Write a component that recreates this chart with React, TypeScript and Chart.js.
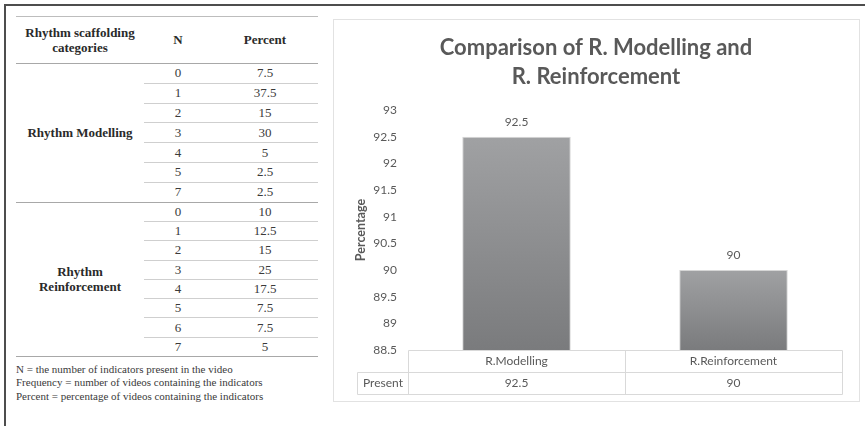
import React, { useEffect, useRef } from "react";
import { Chart, registerables } from "chart.js";

Chart.register(...registerables);

// ---------- data ----------
const chartTitle = ["Comparison of R. Modelling and", "R. Reinforcement"];
const categories = ["R.Modelling", "R.Reinforcement"];
const seriesName = "Present";
const presentValues = [92.5, 90];
const yAxisTitle = "Percentage";
const yMin = 88.5;
const yMax = 93;
const yStep = 0.5;

const tableHeader = ["Rhythm scaffolding\ncategories", "N", "Percent"];
const groupLabels = ["Rhythm Modelling", "Rhythm\nReinforcement"];
const modellingN = ["0", "1", "2", "3", "4", "5", "7"];
const modellingPercent = ["7.5", "37.5", "15", "30", "5", "2.5", "2.5"];
const reinforcementN = ["0", "1", "2", "3", "4", "5", "6", "7"];
const reinforcementPercent = ["10", "12.5", "15", "25", "17.5", "7.5", "7.5", "5"];
const footnotes = [
  "N = the number of indicators present in the video",
  "Frequency = number of videos containing the indicators",
  "Percent = percentage of videos containing the indicators",
];

// ---------- styles ----------
const CHART_FONT = "Lato, 'Open Sans', sans-serif";
const TEXT_GREY = "#595959";
const TABLE_LINE = "#d9d9d9";

const dataTablePlugin = {
  id: "dataTablePlugin",
  afterDatasetsDraw(chart: any) {
    const { ctx, chartArea } = chart;
    const x = chart.scales.x;
    const meta = chart.getDatasetMeta(0);
    const values = chart.data.datasets[0].data as number[];
    const labels = chart.data.labels as string[];
    ctx.save();
    ctx.font = `12px ${CHART_FONT}`;
    ctx.fillStyle = TEXT_GREY;
    ctx.textAlign = "center";
    ctx.textBaseline = "middle";
    // value labels above bars
    meta.data.forEach((bar: any, i: number) => {
      ctx.fillText(String(values[i]), bar.x, bar.y - 15);
    });
    // data table
    const n = labels.length;
    const half = n > 1 ? (x.getPixelForValue(1) - x.getPixelForValue(0)) / 2 : x.width / 2;
    const left = Math.round(x.getPixelForValue(0) - half) + 0.5;
    const right = Math.round(x.getPixelForValue(n - 1) + half) + 0.5;
    const top = Math.round(chartArea.bottom) + 0.5;
    const rowH = 21.5;
    const mid = Math.round(top + rowH) + 0.5;
    const bottom = Math.round(top + 2 * rowH) + 0.5;
    const labelLeft = 24.5;
    ctx.strokeStyle = TABLE_LINE;
    ctx.lineWidth = 1;
    ctx.beginPath();
    ctx.moveTo(left, top);
    ctx.lineTo(right, top);
    ctx.moveTo(labelLeft, mid);
    ctx.lineTo(right, mid);
    ctx.moveTo(labelLeft, bottom);
    ctx.lineTo(right, bottom);
    ctx.moveTo(left, top);
    ctx.lineTo(left, bottom);
    ctx.moveTo(labelLeft, mid);
    ctx.lineTo(labelLeft, bottom);
    for (let i = 0; i < n; i++) {
      const xr = Math.round(x.getPixelForValue(i) + half) + 0.5;
      ctx.moveTo(xr, top);
      ctx.lineTo(xr, bottom);
    }
    ctx.stroke();
    for (let i = 0; i < n; i++) {
      const cx = x.getPixelForValue(i);
      ctx.fillText(labels[i], cx, (top + mid) / 2);
      ctx.fillText(String(values[i]), cx, (mid + bottom) / 2);
    }
    ctx.fillText(chart.data.datasets[0].label, (labelLeft + left) / 2, (mid + bottom) / 2);
    ctx.restore();
  },
};

function barGradient(c: any) {
  const chart = c.chart;
  const ca = chart.chartArea;
  const ys = chart.scales && chart.scales.y;
  if (!ca || !ys || c.raw == null) return "#8a8a8a";
  const yTop = ys.getPixelForValue(c.raw);
  const g = chart.ctx.createLinearGradient(0, yTop, 0, ca.bottom);
  g.addColorStop(0, "#a0a1a3");
  g.addColorStop(1, "#7a7b7d");
  return g;
}

function ChartPanel() {
  const ref = useRef<HTMLCanvasElement | null>(null);
  useEffect(() => {
    if (!ref.current) return;
    const chart = new Chart(ref.current, {
      type: "bar",
      data: {
        labels: categories,
        datasets: [
          {
            label: seriesName,
            data: presentValues,
            backgroundColor: barGradient as any,
            borderColor: "#d6d6d6",
            borderWidth: 1,
            barPercentage: 0.5,
            categoryPercentage: 1,
          },
        ],
      },
      options: {
        responsive: false,
        animation: false,
        events: [],
        layout: { padding: { left: 17, right: 17, top: 0, bottom: 52 } },
        plugins: {
          legend: { display: false },
          tooltip: { enabled: false },
          title: {
            display: true,
            text: chartTitle,
            color: TEXT_GREY,
            font: { family: CHART_FONT, size: 22, weight: "bold", lineHeight: 1.32 },
            padding: { top: 14.5, bottom: 18.5 },
          },
        },
        scales: {
          x: {
            display: false,
            offset: true,
            grid: { display: false },
          },
          y: {
            min: yMin,
            max: yMax,
            grid: { display: false, drawTicks: false },
            border: { display: false },
            ticks: {
              stepSize: yStep,
              padding: 11,
              color: TEXT_GREY,
              font: { family: CHART_FONT, size: 12 },
              callback: (v: any) => String(Number(v)),
            },
            title: {
              display: true,
              text: yAxisTitle,
              color: TEXT_GREY,
              font: { family: CHART_FONT, size: 12.5, weight: "bold" },
              padding: { top: 3.5, bottom: 0 },
            },
            afterFit(scale: any) {
              scale.width = 58;
            },
          },
        },
      },
      plugins: [dataTablePlugin],
    });
    return () => chart.destroy();
  }, []);
  return (
    <canvas
      ref={ref}
      width={526}
      height={383}
      style={{ position: "absolute", left: 333, top: 19, width: 526, height: 383 }}
    />
  );
}

const SERIF = "'Liberation Serif', 'Times New Roman', serif";

function LeftTable() {
  const tableLeft = 16;
  const tableWidth = 302;
  const col1W = 128;
  const col2W = 68;
  const col3W = 106;
  const headerTop = 16;
  const headerBottom = 63;
  const rowH1 = 19.8;
  const rowH2 = 19.3;
  const groupTop2 = headerBottom + modellingN.length * rowH1;
  const tableBottom = groupTop2 + reinforcementN.length * rowH2;

  const major = "#a8a8a8";
  const minor = "#cfcfcf";

  const hLine = (top: number, left: number, width: number, color: string, key: string) => (
    <div
      key={key}
      style={{ position: "absolute", left, top: Math.round(top), width, height: 1, background: color }}
    />
  );

  const cell = (
    text: string,
    left: number,
    top: number,
    width: number,
    height: number,
    key: string,
    bold = false
  ) => (
    <div
      key={key}
      style={{
        position: "absolute",
        left,
        top,
        width,
        height,
        display: "flex",
        alignItems: "center",
        justifyContent: "center",
        textAlign: "center",
        whiteSpace: "pre-line",
        fontFamily: SERIF,
        fontSize: 13,
        lineHeight: "15px",
        fontWeight: bold ? 700 : 400,
        color: bold ? "#2a2a2a" : "#3a3a3a",
      }}
    >
      {text}
    </div>
  );

  const items: any[] = [];
  items.push(hLine(headerTop, tableLeft, tableWidth, "#bdbdbd", "top"));
  items.push(cell(tableHeader[0], tableLeft, headerTop, col1W, headerBottom - headerTop, "h0", true));
  items.push(cell(tableHeader[1], tableLeft + col1W, headerTop, col2W, headerBottom - headerTop, "h1", true));
  items.push(cell(tableHeader[2], tableLeft + col1W + col2W, headerTop, col3W, headerBottom - headerTop, "h2", true));
  items.push(hLine(headerBottom, tableLeft, tableWidth, major, "hb"));

  const groups = [
    { label: groupLabels[0], n: modellingN, p: modellingPercent, top: headerBottom, h: rowH1 },
    { label: groupLabels[1], n: reinforcementN, p: reinforcementPercent, top: groupTop2, h: rowH2 },
  ];
  groups.forEach((g, gi) => {
    const gh = g.n.length * g.h;
    items.push(cell(g.label, tableLeft, g.top, col1W, gh, `g${gi}`, true));
    g.n.forEach((nv, ri) => {
      const rt = g.top + ri * g.h;
      items.push(cell(nv, tableLeft + col1W, rt, col2W, g.h, `n${gi}-${ri}`));
      items.push(cell(g.p[ri], tableLeft + col1W + col2W, rt, col3W, g.h, `p${gi}-${ri}`));
      if (ri < g.n.length - 1) {
        items.push(hLine(rt + g.h, tableLeft + col1W, col2W + col3W, minor, `l${gi}-${ri}`));
      }
    });
    items.push(hLine(g.top + gh, tableLeft, tableWidth, major, `gb${gi}`));
  });

  footnotes.forEach((f, i) => {
    items.push(
      <div
        key={`f${i}`}
        style={{
          position: "absolute",
          left: 16,
          top: tableBottom + 7 + i * 13.3,
          fontFamily: SERIF,
          fontSize: 11,
          lineHeight: "13.3px",
          color: "#3a3a3a",
          whiteSpace: "nowrap",
        }}
      >
        {f}
      </div>
    );
  });

  return <>{items}</>;
}

export default function App() {
  return (
    <div
      style={{
        position: "absolute",
        left: 0,
        top: 0,
        width: 865,
        height: 426,
        background: "#ffffff",
        overflow: "hidden",
      }}
    >
      <div
        style={{
          position: "absolute",
          left: 4,
          top: 4,
          width: 870,
          height: 430,
          borderTop: "2px solid #4d4d4d",
          borderLeft: "2px solid #4d4d4d",
        }}
      />
      <LeftTable />
      <div
        style={{
          position: "absolute",
          left: 333,
          top: 19,
          width: 525,
          height: 381,
          border: "1px solid #e2e2e2",
        }}
      />
      <ChartPanel />
    </div>
  );
}
